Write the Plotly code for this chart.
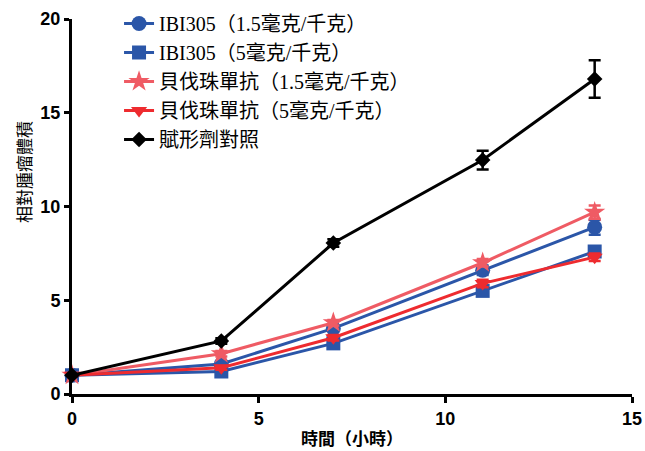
import plotly.graph_objects as go

hours = [0, 4, 7, 11, 14]
x_ticks = [0, 5, 10, 15]
y_ticks = [0, 5, 10, 15, 20]

names = [
    "IBI305（1.5毫克/千克）",
    "IBI305（5毫克/千克）",
    "貝伐珠單抗（1.5毫克/千克）",
    "貝伐珠單抗（5毫克/千克）",
    "賦形劑對照",
]
ibi_15 = [1.0, 1.6, 3.5, 6.6, 8.9]
ibi_15_err = [0.05, 0.15, 0.15, 0.25, 0.4]
ibi_5 = [1.0, 1.2, 2.7, 5.5, 7.6]
ibi_5_err = [0.05, 0.1, 0.15, 0.2, 0.2]
bev_15 = [1.0, 2.15, 3.8, 7.0, 9.7]
bev_15_err = [0.05, 0.15, 0.15, 0.2, 0.35]
bev_5 = [1.0, 1.4, 3.0, 5.9, 7.3]
bev_5_err = [0.05, 0.1, 0.15, 0.2, 0.2]
vehicle = [1.0, 2.83, 8.05, 12.48, 16.8]
vehicle_err = [0.05, 0.15, 0.2, 0.5, 1.0]

series = [
    (names[0], ibi_15, ibi_15_err, "#2b56a8", "circle", 15),
    (names[1], ibi_5, ibi_5_err, "#2b56a8", "square", 14),
    (names[2], bev_15, bev_15_err, "#ef5b64", "star", 16),
    (names[3], bev_5, bev_5_err, "#ee2b2f", "triangle-down", 14),
    (names[4], vehicle, vehicle_err, "#000000", "diamond", 12),
]

fig = go.Figure()
for name, ys, errs, color, sym, size in series:
    fig.add_trace(go.Scatter(
        x=hours, y=ys, name=name, mode="lines+markers",
        line=dict(color=color, width=3),
        marker=dict(color=color, symbol=sym, size=size),
        error_y=dict(type="data", array=errs, color=color, thickness=2.5, width=6),
        cliponaxis=False,
    ))

tick_font = dict(family="Liberation Sans, Arial", size=18, color="#000")
fig.update_layout(
    width=645, height=451,
    margin=dict(l=72, r=13, t=19, b=57, autoexpand=False),
    plot_bgcolor="white", paper_bgcolor="white",
    showlegend=True,
    legend=dict(
        x=0.084, y=1.04, xanchor="left", yanchor="top",
        font=dict(family="Liberation Serif, Noto Sans CJK TC", size=20, color="#000"),
        bgcolor="rgba(0,0,0,0)", tracegroupgap=0, itemwidth=30,
    ),
    xaxis=dict(
        range=[0, 15], tickvals=x_ticks, ticktext=[f"<b>{v}</b>" for v in x_ticks],
        showgrid=False, zeroline=False, automargin=False, ticklabeloverflow="allow",
        showline=True, linecolor="#000", linewidth=3,
        ticks="outside", ticklen=6, tickwidth=3, tickcolor="#000",
        tickfont=tick_font,
        title=dict(text="<b>時間（小時）</b>", font=dict(family="Noto Sans CJK TC", size=17, color="#000"), standoff=6),
    ),
    yaxis=dict(
        range=[0, 20], tickvals=y_ticks, ticktext=[f"<b>{v}</b>" for v in y_ticks],
        showgrid=False, zeroline=False, automargin=False, ticklabeloverflow="allow",
        showline=True, linecolor="#000", linewidth=3,
        ticks="outside", ticklen=5, tickwidth=3, tickcolor="#000",
        tickfont=tick_font,
    ),
    annotations=[dict(
        text="相對腫瘤體積", textangle=-90, showarrow=False,
        xref="paper", yref="paper", x=-0.0875, y=0.592,
        xanchor="center", yanchor="middle",
        font=dict(family="Noto Sans CJK TC", size=17, color="#000"),
    )],
)

fig.write_html(
    "out.html",
    config={"displayModeBar": False},
    post_script="document.body.style.margin='0';document.body.style.overflow='hidden';",
)
